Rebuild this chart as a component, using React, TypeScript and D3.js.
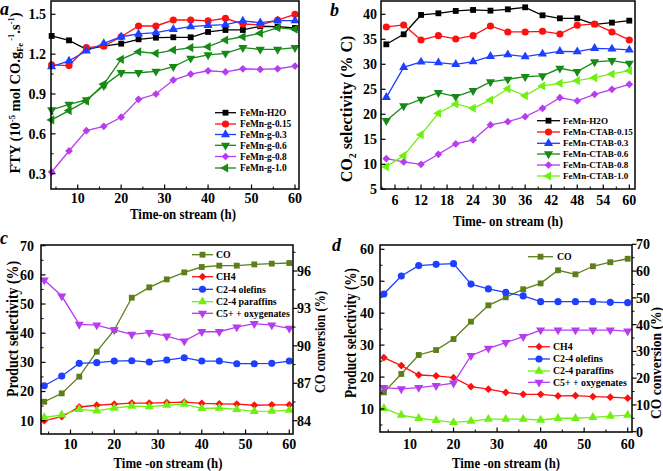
import React from 'react';
import * as d3 from 'd3';

const HOURS = [4, 8, 12, 16, 20, 24, 28, 32, 36, 40, 44, 48, 52, 56, 60];

// Panel a: FTY
const A_H2O = [1.337, 1.304, 1.236, 1.261, 1.279, 1.312, 1.324, 1.327, 1.327, 1.367, 1.382, 1.382, 1.41, 1.407, 1.397];
const A_G015 = [1.119, 1.114, 1.249, 1.26, 1.331, 1.412, 1.412, 1.457, 1.457, 1.45, 1.47, 1.427, 1.42, 1.457, 1.5];
const A_G03 = [1.106, 1.149, 1.224, 1.281, 1.331, 1.352, 1.362, 1.387, 1.407, 1.417, 1.422, 1.45, 1.437, 1.452, 1.452];
const A_G06 = [0.78, 0.822, 0.855, 0.963, 1.06, 1.06, 1.071, 1.106, 1.169, 1.194, 1.206, 1.249, 1.236, 1.236, 1.249];
const A_G08 = [0.313, 0.471, 0.624, 0.657, 0.725, 0.86, 0.9, 1.005, 1.05, 1.075, 1.066, 1.09, 1.085, 1.09, 1.11];
const A_G10 = [0.705, 0.775, 0.848, 0.973, 1.161, 1.218, 1.206, 1.231, 1.249, 1.256, 1.307, 1.331, 1.357, 1.399, 1.387];
const A_NAMES = ['FeMn-H2O', 'FeMn-g-0.15', 'FeMn-g-0.3', 'FeMn-g-0.6', 'FeMn-g-0.8', 'FeMn-g-1.0'];
const A_XTICKS = [10, 20, 30, 40, 50, 60];
const A_YTICKS = [0.3, 0.6, 0.9, 1.2, 1.5];

// Panel b: CO2 selectivity
const B_H2O = [34.0, 36.0, 39.87, 40.2, 40.67, 40.87, 40.73, 41.0, 41.4, 39.8, 39.2, 39.2, 38.0, 38.33, 38.73];
const B_C015 = [37.47, 37.87, 34.87, 35.73, 35.07, 35.73, 37.67, 36.47, 36.47, 36.6, 36.07, 37.8, 38.07, 36.47, 34.87];
const B_C03 = [23.4, 29.4, 30.47, 30.33, 30.0, 30.53, 31.6, 31.93, 31.53, 32.07, 32.6, 32.53, 33.2, 33.07, 32.87];
const B_C06 = [18.73, 21.67, 23.0, 24.33, 23.53, 24.73, 26.47, 27.0, 27.53, 27.67, 29.2, 28.53, 30.47, 30.73, 30.2];
const B_C08 = [11.13, 10.47, 10.0, 12.0, 14.07, 14.87, 17.87, 18.53, 19.53, 21.2, 23.33, 22.67, 24.0, 25.0, 26.0];
const B_C10 = [9.53, 11.73, 15.93, 20.2, 22.07, 21.2, 22.87, 25.13, 23.73, 25.67, 26.2, 26.73, 27.33, 28.07, 28.73];
const B_NAMES = ['FeMn-H2O', 'FeMn-CTAB-0.15', 'FeMn-CTAB-0.3', 'FeMn-CTAB-0.6', 'FeMn-CTAB-0.8', 'FeMn-CTAB-1.0'];
const B_XTICKS = [6, 12, 18, 24, 30, 36, 42, 48, 54, 60];
const B_YTICKS = [5, 10, 15, 20, 25, 30, 35, 40];

// Panel c
const C_CO = [85.52, 86.19, 87.53, 89.53, 91.27, 93.86, 94.69, 95.33, 95.89, 96.32, 96.43, 96.43, 96.53, 96.59, 96.64];
const C_CH4 = [10.0, 11.37, 14.7, 15.3, 15.65, 16.06, 16.06, 16.2, 16.4, 15.95, 15.8, 15.7, 15.3, 15.45, 15.45];
const C_OLE = [22.0, 25.3, 29.66, 29.9, 30.46, 30.57, 30.11, 30.8, 31.6, 30.46, 30.46, 29.54, 29.54, 29.66, 30.46];
const C_PAR = [11.1, 12.0, 13.9, 13.4, 14.35, 15.0, 14.8, 15.3, 15.7, 14.2, 14.35, 13.9, 13.2, 13.3, 13.6];
const C_C5 = [58.23, 52.74, 43.03, 42.8, 41.1, 39.6, 40.17, 39.0, 37.3, 40.5, 40.5, 42.1, 43.26, 42.8, 41.66];
const C_LTICKS = [10, 20, 30, 40, 50, 60, 70];
const C_RTICKS = [84, 87, 90, 93, 96];

// Panel d
const D_CO = [14.7, 21.56, 28.66, 30.5, 34.6, 41.1, 47.2, 50.2, 53.2, 55.4, 60.3, 58.8, 61.8, 63.3, 64.6];
const D_CH4 = [26.1, 23.6, 20.65, 20.4, 19.8, 17.0, 16.2, 15.2, 14.6, 14.6, 14.1, 14.2, 13.9, 13.7, 13.4];
const D_OLE = [46.0, 51.65, 54.9, 55.3, 55.5, 49.1, 47.6, 46.5, 45.4, 43.6, 43.6, 43.6, 43.6, 43.4, 43.3];
const D_PAR = [10.2, 8.1, 7.1, 6.45, 5.8, 6.2, 6.8, 6.8, 6.8, 6.55, 7.1, 7.1, 7.4, 7.8, 8.1];
const D_C5 = [16.7, 16.3, 16.7, 17.3, 18.1, 26.7, 29.0, 30.8, 32.65, 34.7, 34.7, 34.7, 34.7, 34.7, 34.4];
const D_LTICKS = [10, 20, 30, 40, 50, 60];
const D_RTICKS = [0, 10, 20, 30, 40, 50, 60, 70];

const PROD_NAMES = ['CO', 'CH4', 'C2-4 olefins', 'C2-4 paraffins', 'C5+ + oxygenates'];
const CD_XTICKS = [10, 20, 30, 40, 50, 60];

const FONT = "'Times New Roman', 'Liberation Serif', serif";
const BLACK = '#000000';
const RED = '#ff1010';
const BLUE = '#1f3fff';
const DGREEN = '#168a16';
const PURPLE = '#b63cf0';
const LGREEN = '#70f010';
const OLIVE = '#5c7f19';

type Sym = 'square' | 'circle' | 'up' | 'down' | 'left' | 'diamond';

function symPath(s: Sym): { d: string; rot: number } {
  switch (s) {
    case 'square': return { d: d3.symbol(d3.symbolSquare, 34)() as string, rot: 0 };
    case 'circle': return { d: d3.symbol(d3.symbolCircle, 40)() as string, rot: 0 };
    case 'up': return { d: d3.symbol(d3.symbolTriangle, 36)() as string, rot: 0 };
    case 'down': return { d: d3.symbol(d3.symbolTriangle, 36)() as string, rot: 180 };
    case 'left': return { d: d3.symbol(d3.symbolTriangle, 36)() as string, rot: -90 };
    case 'diamond': return { d: d3.symbol(d3.symbolSquare, 30)() as string, rot: 45 };
  }
}

function Marker({ x, y, s, color }: { x: number; y: number; s: Sym; color: string }) {
  const p = symPath(s);
  return <path d={p.d} transform={`translate(${x},${y}) rotate(${p.rot})`} fill={color} stroke="none" />;
}

interface Series { name: string; values: number[]; color: string; sym: Sym; right?: boolean }

function Lines({ series, x, yl, yr }: { series: Series[]; x: any; yl: any; yr?: any }) {
  return (
    <g>
      {series.map((s, i) => {
        const y = s.right ? yr : yl;
        const line = d3.line<number>().x((_, j) => x(HOURS[j])).y(v => y(v));
        return (
          <g key={i}>
            <path d={line(s.values) as string} fill="none" stroke={s.color} strokeWidth={1.3} />
            {s.values.map((v, j) => <Marker key={j} x={x(HOURS[j])} y={y(v)} s={s.sym} color={s.color} />)}
          </g>
        );
      })}
    </g>
  );
}

function Legend({ items, x0, x1, tx, ys, size = 10 }: { items: Series[]; x0: number; x1: number; tx: number; ys: number[]; size?: number }) {
  return (
    <g>
      {items.map((s, i) => (
        <g key={i}>
          <line x1={x0} x2={x1} y1={ys[i]} y2={ys[i]} stroke={s.color} strokeWidth={1.3} />
          <Marker x={(x0 + x1) / 2} y={ys[i]} s={s.sym} color={s.color} />
          <text x={tx} y={ys[i]} dy="0.35em" fontSize={size} fontWeight="bold" fontFamily={FONT} fill="#000">{s.name}</text>
        </g>
      ))}
    </g>
  );
}

function Frame({ l, r, t, b }: { l: number; r: number; t: number; b: number }) {
  return <rect x={l} y={t} width={r - l} height={b - t} fill="none" stroke="#000" strokeWidth={1.5} />;
}

const TICK_FS = 14;

function BottomAxis({ x, ticks, minor, b, labelY }: { x: any; ticks: number[]; minor: number[]; b: number; labelY: number }) {
  return (
    <g>
      {ticks.map(t => <line key={'M' + t} x1={x(t)} x2={x(t)} y1={b} y2={b - 4.5} stroke="#000" strokeWidth={1.2} />)}
      {minor.map(t => <line key={'m' + t} x1={x(t)} x2={x(t)} y1={b} y2={b - 2.5} stroke="#000" strokeWidth={1} />)}
      {ticks.map(t => (
        <text key={'L' + t} x={x(t)} y={labelY} textAnchor="middle" fontSize={TICK_FS} fontWeight="bold" fontFamily={FONT}>{String(t)}</text>
      ))}
    </g>
  );
}

function LeftAxis({ y, ticks, minor, l, labelX, fmt }: { y: any; ticks: number[]; minor: number[]; l: number; labelX: number; fmt?: (v: number) => string }) {
  return (
    <g>
      {ticks.map(t => <line key={'M' + t} x1={l} x2={l + 4.5} y1={y(t)} y2={y(t)} stroke="#000" strokeWidth={1.2} />)}
      {minor.map(t => <line key={'m' + t} x1={l} x2={l + 2.5} y1={y(t)} y2={y(t)} stroke="#000" strokeWidth={1} />)}
      {ticks.map(t => (
        <text key={'L' + t} x={labelX} y={y(t)} dy="0.35em" textAnchor="end" fontSize={TICK_FS} fontWeight="bold" fontFamily={FONT}>{fmt ? fmt(t) : String(t)}</text>
      ))}
    </g>
  );
}

function RightAxis({ y, ticks, minor, r, labelX }: { y: any; ticks: number[]; minor: number[]; r: number; labelX: number }) {
  return (
    <g>
      {ticks.map(t => <line key={'M' + t} x1={r} x2={r + 4.5} y1={y(t)} y2={y(t)} stroke="#000" strokeWidth={1.2} />)}
      {minor.map(t => <line key={'m' + t} x1={r} x2={r + 2.5} y1={y(t)} y2={y(t)} stroke="#000" strokeWidth={1} />)}
      {ticks.map(t => (
        <text key={'L' + t} x={labelX} y={y(t)} dy="0.35em" textAnchor="start" fontSize={TICK_FS} fontWeight="bold" fontFamily={FONT}>{String(t)}</text>
      ))}
    </g>
  );
}

function mids(ticks: number[], step: number, lo: number, hi: number): number[] {
  const out: number[] = [];
  const all = [ticks[0] - step, ...ticks];
  all.forEach(t => { const m = t + step / 2; if (m > lo && m < hi) out.push(m); });
  return out;
}

export default function App() {
  const ax = d3.scaleLinear().domain([10, 60]).range([77.7, 295]);
  const ay = d3.scaleLinear().domain([0.3, 1.5]).range([173.7, 14.3]);
  const aSeries: Series[] = [
    { name: A_NAMES[0], values: A_H2O, color: BLACK, sym: 'square' },
    { name: A_NAMES[1], values: A_G015, color: RED, sym: 'circle' },
    { name: A_NAMES[2], values: A_G03, color: BLUE, sym: 'up' },
    { name: A_NAMES[3], values: A_G06, color: DGREEN, sym: 'down' },
    { name: A_NAMES[4], values: A_G08, color: PURPLE, sym: 'diamond' },
    { name: A_NAMES[5], values: A_G10, color: DGREEN, sym: 'left' },
  ];
  const bx = d3.scaleLinear().domain([6, 60]).range([395, 629.3]);
  const by = d3.scaleLinear().domain([5, 40]).range([189.3, 14.3]);
  const bSeries: Series[] = [
    { name: B_NAMES[0], values: B_H2O, color: BLACK, sym: 'square' },
    { name: B_NAMES[1], values: B_C015, color: RED, sym: 'circle' },
    { name: B_NAMES[2], values: B_C03, color: BLUE, sym: 'up' },
    { name: B_NAMES[3], values: B_C06, color: DGREEN, sym: 'down' },
    { name: B_NAMES[4], values: B_C08, color: PURPLE, sym: 'diamond' },
    { name: B_NAMES[5], values: B_C10, color: LGREEN, sym: 'left' },
  ];
  const cx = d3.scaleLinear().domain([10, 60]).range([70.5, 289.3]);
  const cyl = d3.scaleLinear().domain([10, 70]).range([420.7, 245.7]);
  const cyr = d3.scaleLinear().domain([84, 96]).range([420.7, 271]);
  const cSeries: Series[] = [
    { name: PROD_NAMES[0], values: C_CO, color: OLIVE, sym: 'square', right: true },
    { name: PROD_NAMES[1], values: C_CH4, color: RED, sym: 'diamond' },
    { name: PROD_NAMES[2], values: C_OLE, color: BLUE, sym: 'circle' },
    { name: PROD_NAMES[3], values: C_PAR, color: LGREEN, sym: 'up' },
    { name: PROD_NAMES[4], values: C_C5, color: PURPLE, sym: 'down' },
  ];
  const dx = d3.scaleLinear().domain([10, 60]).range([410, 627.7]);
  const dyl = d3.scaleLinear().domain([10, 60]).range([409, 249.3]);
  const dyr = d3.scaleLinear().domain([0, 70]).range([431.7, 244.3]);
  const dSeries: Series[] = [
    { name: PROD_NAMES[0], values: D_CO, color: OLIVE, sym: 'square', right: true },
    { name: PROD_NAMES[1], values: D_CH4, color: RED, sym: 'diamond' },
    { name: PROD_NAMES[2], values: D_OLE, color: BLUE, sym: 'circle' },
    { name: PROD_NAMES[3], values: D_PAR, color: LGREEN, sym: 'up' },
    { name: PROD_NAMES[4], values: D_C5, color: PURPLE, sym: 'down' },
  ];

  const bold = { fontFamily: FONT, fontWeight: 'bold' as const };
  const fit = { lengthAdjust: 'spacingAndGlyphs' as const };

  return (
    <svg width={663} height={471} style={{ position: 'absolute', left: 0, top: 0, background: '#fff' }}>
      <rect x={0} y={0} width={663} height={471} fill="#fff" />

      {/* Panel a */}
      <text x={0} y={15} fontSize={18} fontStyle="italic" {...bold}>a</text>
      <Lines series={aSeries} x={ax} yl={ay} />
      <Frame l={51} r={299} t={1} b={189} />
      <BottomAxis x={ax} ticks={A_XTICKS} minor={[5, 15, 25, 35, 45, 55]} b={189} labelY={202.5} />
      <LeftAxis y={ay} ticks={A_YTICKS} minor={[0.45, 0.75, 1.05, 1.35]} l={51} labelX={46} fmt={v => v.toFixed(1)} />
      <Legend items={aSeries} x0={215} x1={236} tx={240} ys={[112.7, 124, 134.5, 145.3, 156.5, 168]} size={9.4} />
      <text x={183} y={218.5} textAnchor="middle" fontSize={14.5} textLength={106} {...fit} {...bold}>Time-on stream (h)</text>
      <text transform="translate(20,93) rotate(-90)" textAnchor="middle" fontSize={14.5} {...bold}>
        FTY (10<tspan dy={-5} fontSize={8.5}>-5</tspan><tspan dy={5}> mol CO.g</tspan><tspan dy={3} fontSize={8.5}>Fe</tspan><tspan dy={-9} fontSize={8.5}> -1</tspan><tspan dy={6}>.s</tspan><tspan dy={-6} fontSize={8.5}>-1</tspan><tspan dy={6}>)</tspan>
      </text>

      {/* Panel b */}
      <text x={330} y={16} fontSize={18} fontStyle="italic" {...bold}>b</text>
      <Lines series={bSeries} x={bx} yl={by} />
      <Frame l={381} r={635} t={1} b={189} />
      <BottomAxis x={bx} ticks={B_XTICKS} minor={[3, 9, 15, 21, 27, 33, 39, 45, 51, 57]} b={189} labelY={205} />
      <LeftAxis y={by} ticks={B_YTICKS} minor={[]} l={381} labelX={377} />
      <Legend items={bSeries} x0={537} x1={560} tx={563} ys={[120.7, 132, 143.3, 154, 165, 176]} size={9.1} />
      <text x={508} y={226} textAnchor="middle" fontSize={14.5} textLength={110} {...fit} {...bold}>Time- on stream (h)</text>
      <text transform="translate(352,109) rotate(-90)" textAnchor="middle" fontSize={16} {...bold}>
        CO<tspan dy={4} fontSize={10}>2</tspan><tspan dy={-4}>  selectivity (% C)</tspan>
      </text>

      {/* Panel c */}
      <text x={0} y={244} fontSize={18} fontStyle="italic" {...bold}>c</text>
      <Lines series={cSeries} x={cx} yl={cyl} yr={cyr} />
      <Frame l={41} r={293} t={245} b={434} />
      <BottomAxis x={cx} ticks={CD_XTICKS} minor={[5, 15, 25, 35, 45, 55]} b={434} labelY={449} />
      <LeftAxis y={cyl} ticks={C_LTICKS} minor={mids(C_LTICKS, 10, 5.5, 70)} l={41} labelX={34} />
      <RightAxis y={cyr} ticks={C_RTICKS} minor={mids(C_RTICKS, 3, 83, 98)} r={293} labelX={297} />
      <Legend items={cSeries} x0={192} x1={213} tx={216} ys={[254.7, 276.7, 289.3, 301.7, 313.3]} size={9.8} />
      <text x={168} y={468} textAnchor="middle" fontSize={14.5} textLength={109} {...fit} {...bold}>Time -on stream (h)</text>
      <text transform="translate(18,329) rotate(-90)" textAnchor="middle" fontSize={16} textLength={136} {...fit} {...bold}>Product selectivity (%)</text>
      <text transform="translate(325,342) rotate(-90)" textAnchor="middle" fontSize={15.5} textLength={102} {...fit} {...bold}>CO conversion (%)</text>

      {/* Panel d */}
      <text x={332} y={251} fontSize={18} fontStyle="italic" {...bold}>d</text>
      <Lines series={dSeries} x={dx} yl={dyl} yr={dyr} />
      <Frame l={380} r={632} t={245} b={432} />
      <BottomAxis x={dx} ticks={CD_XTICKS} minor={[5, 15, 25, 35, 45, 55]} b={432} labelY={449} />
      <LeftAxis y={dyl} ticks={D_LTICKS} minor={mids(D_LTICKS, 10, 3, 61)} l={380} labelX={374} />
      <RightAxis y={dyr} ticks={D_RTICKS} minor={mids(D_RTICKS, 10, 0, 70)} r={632} labelX={636} />
      <Legend items={[dSeries[0]]} x0={528} x1={553} tx={557} ys={[256.7]} size={9.8} />
      <Legend items={dSeries.slice(1)} x0={528} x1={550} tx={553} ys={[346.7, 359, 371, 382.3]} size={9.8} />
      <text x={506} y={468} textAnchor="middle" fontSize={14.5} textLength={108} {...fit} {...bold}>Time -on stream (h)</text>
      <text transform="translate(356,333) rotate(-90)" textAnchor="middle" fontSize={16} textLength={130} {...fit} {...bold}>Product selectivity (%)</text>
      <text transform="translate(661,363) rotate(-90)" textAnchor="middle" fontSize={15} textLength={112} {...fit} {...bold}>CO conversion (%)</text>
    </svg>
  );
}
